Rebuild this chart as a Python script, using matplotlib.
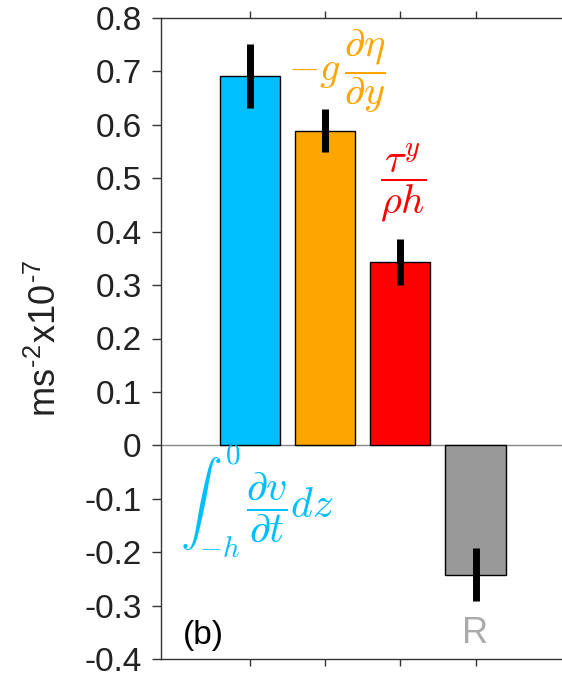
import matplotlib
matplotlib.use("Agg")
import matplotlib.pyplot as plt

plt.rcParams['font.family'] = ['Liberation Sans', 'DejaVu Sans']
plt.rcParams['mathtext.fontset'] = 'cm'

positions = [1, 2, 3, 4]
values = [0.691, 0.589, 0.343, -0.242]
errors = [0.060, 0.040, 0.043, 0.050]
colors = ['#00BFFF', '#FFA500', '#FF0000', '#999999']
labels = [r'$\int_{-h}^{0}\,\dfrac{\partial v}{\partial t}dz$',
          r'$-g\,\dfrac{\partial\eta}{\partial y}$',
          r'$\dfrac{\tau^y}{\rho h}$',
          'R']
yticks = [-0.4, -0.3, -0.2, -0.1, 0, 0.1, 0.2, 0.3, 0.4, 0.5, 0.6, 0.7, 0.8]
ytick_labels = ['-0.4', '-0.3', '-0.2', '-0.1', '0', '0.1', '0.2', '0.3',
                '0.4', '0.5', '0.6', '0.7', '0.8']

fig = plt.figure(figsize=(5.62, 6.77), dpi=100)
ax = fig.add_axes([160.5 / 562, 18 / 677, 1 - 160.5 / 562, 641 / 677])

ax.axhline(0, color='#888888', lw=1.0, zorder=1)
ax.bar(positions, values, width=0.8, color=colors, edgecolor='black',
       linewidth=1.0, zorder=2)
ax.errorbar(positions, values, yerr=errors, fmt='none', ecolor='black',
            elinewidth=5, capsize=0, zorder=3)

ax.set_xlim(-0.19, 5.15)
ax.set_ylim(-0.4, 0.8)
ax.set_yticks(yticks)
ax.set_yticklabels(ytick_labels)
ax.set_xticks(positions)
ax.set_xticklabels([])
ax.spines['right'].set_visible(False)
for s in ['left', 'top', 'bottom']:
    ax.spines[s].set_color('#333333')
    ax.spines[s].set_linewidth(1.0)
ax.tick_params(axis='y', direction='out', length=6.5, width=1.0,
               color='#333333', labelsize=24, pad=7.0, labelcolor='#222222')
ax.tick_params(axis='x', direction='out', length=5, width=1.0,
               color='#333333', top=True, bottom=True)

ax.set_ylabel('ms$^{\\mathregular{\u20102}}$x10$^{\\mathregular{\u20107}}$',
              fontsize=26, color='#222222')
ax.yaxis.set_label_coords(-0.24, 0.5)

ax.text(0.07, -0.105, labels[0], color=colors[0], fontsize=30,
        ha='left', va='center')
ax.text(2.16, 0.70, labels[1], color=colors[1], fontsize=29,
        ha='center', va='center')
ax.text(3.04, 0.49, labels[2], color=colors[2], fontsize=29,
        ha='center', va='center')
ax.text(4, -0.352, labels[3], color='#AAAAAA', fontsize=26,
        ha='center', va='center')
ax.text(0.11, -0.356, '(b)', color='black', fontsize=24,
        ha='left', va='center')

fig.savefig('out.png', dpi=100)
